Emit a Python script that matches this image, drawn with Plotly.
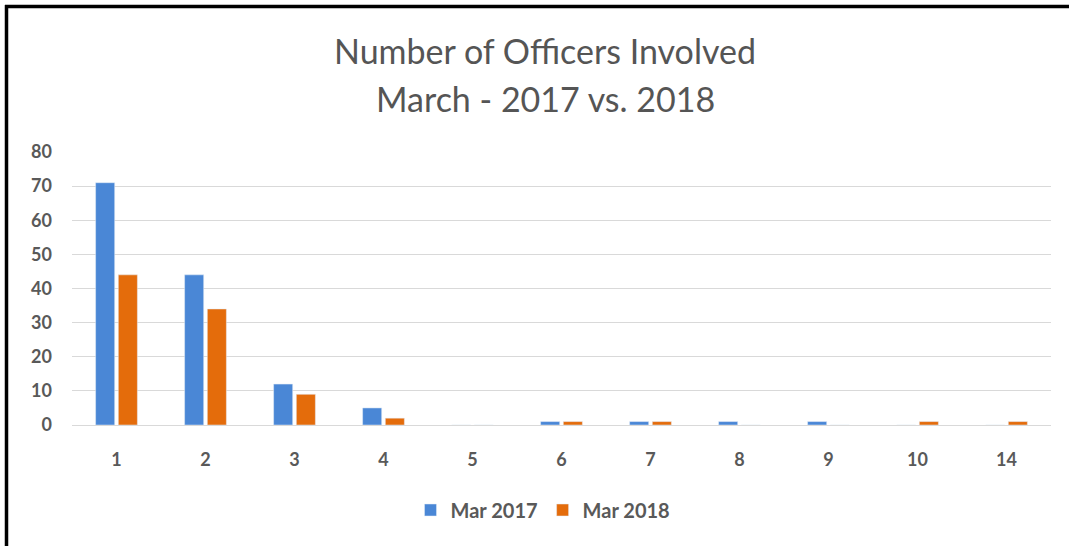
import plotly.graph_objects as go

categories = ["1", "2", "3", "4", "5", "6", "7", "8", "9", "10", "14"]
mar_2017 = [71, 44, 12, 5, 0, 1, 1, 1, 1, 0, 0]
mar_2018 = [44, 34, 9, 2, 0, 1, 1, 0, 0, 1, 1]
y_ticks = [0, 10, 20, 30, 40, 50, 60, 70, 80]

W, H = 1069, 546
L, R, T, B = 72, 18, 152, 121
pw = W - L - R
ph = H - T - B

def px(x):
    return (x - L) / pw

def py(y):
    return (H - B - y) / ph

grey = "#595959"
fig = go.Figure()
fig.add_trace(go.Bar(x=categories, y=mar_2017, name="Mar 2017", marker_color="#4a87d6"))
fig.add_trace(go.Bar(x=categories, y=mar_2018, name="Mar 2018", marker_color="#e46c0b"))

fig.update_layout(
    width=W, height=H,
    margin=dict(l=L, r=R, t=T, b=B),
    plot_bgcolor="white", paper_bgcolor="white",
    barmode="group", bargap=0.49, bargroupgap=0.16,
    showlegend=True,
    legend=dict(orientation="h", x=px(543), xanchor="center", y=py(510), yanchor="middle",
                font=dict(family="Lato", size=20, color=grey, weight="bold"),
                traceorder="normal"),
    xaxis=dict(type="category", showgrid=False, showline=False, ticks="",
               ticklabelstandoff=22,
               tickfont=dict(family="Lato", size=18, color=grey, weight="bold")),
    yaxis=dict(range=[0, 80], tickvals=y_ticks, showgrid=True, gridcolor="#d9d9d9",
               gridwidth=1, zeroline=True, zerolinecolor="#d9d9d9", zerolinewidth=1,
               showline=False, ticks="", ticklabelstandoff=19,
               tickfont=dict(family="Lato", size=18, color=grey, weight="bold")),
    annotations=[
        dict(text="Number of Officers Involved", x=px(545), y=py(50), xref="paper", yref="paper",
             xanchor="center", yanchor="middle", showarrow=False,
             font=dict(family="Lato", size=34, color="#555555")),
        dict(text="March - 2017 vs. 2018", x=px(545), y=py(98), xref="paper", yref="paper",
             xanchor="center", yanchor="middle", showarrow=False,
             font=dict(family="Lato", size=34, color="#555555")),
    ],
    shapes=[
        dict(type="line", xref="paper", yref="paper", x0=px(5), x1=px(W + 2), y0=py(6.5), y1=py(6.5),
             line=dict(color="black", width=3.5)),
        dict(type="line", xref="paper", yref="paper", x0=px(6.5), x1=px(6.5), y0=py(5), y1=py(H + 2),
             line=dict(color="black", width=3.5)),
    ],
)

fig.write_html("out.html", config={"displayModeBar": False},
               post_script="document.body.style.margin='0';")
